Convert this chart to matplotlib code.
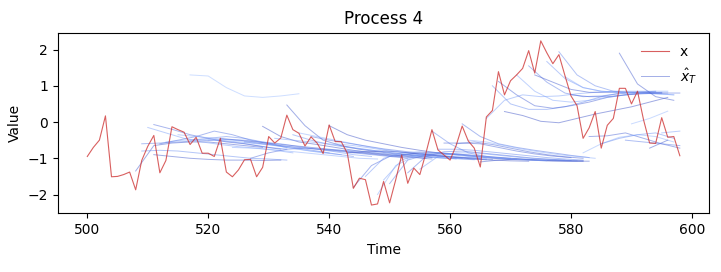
import matplotlib
matplotlib.use("Agg")
import matplotlib.pyplot as plt
import numpy as np

# observed series x, t = 500..598
t_obs = np.arange(500, 599)
x_obs = [-0.95, -0.70, -0.50, 0.17, -1.51, -1.50, -1.45, -1.38, -1.87, -1.06,
         -0.67, -0.37, -1.40, -1.06, -0.13, -0.21, -0.28, -0.62, -0.42, -0.86,
         -0.86, -0.95, -0.45, -1.38, -1.51, -1.32, -1.04, -1.03, -1.51, -1.25,
         -0.40, -0.58, -0.44, 0.19, -0.21, -0.31, -0.66, -0.41, -0.58, -0.87,
         -0.08, -0.54, -0.54, -0.86, -1.83, -1.55, -1.59, -2.29, -2.26, -1.64,
         -2.23, -1.60, -0.91, -1.69, -1.27, -1.45, -0.86, -0.21, -0.77, -0.91,
         -1.05, -0.65, -0.11, -0.52, -0.72, -1.24, 0.14, 0.32, 1.39, 0.75,
         1.14, 1.30, 1.48, 1.97, 1.35, 2.24, 1.91, 1.61, 1.86, 1.28,
         0.72, 0.45, -0.45, -0.16, 0.29, -0.72, -0.09, 0.10, 0.93, 0.93,
         0.50, 0.85, 0.06, -0.58, -0.59, 0.12, -0.42, -0.40, -0.93]

# forecasts: start time, values every 3 steps, colour shade (coolwarm 0..0.3)
fc_step = 3
fc_start = [508, 509, 510, 511, 509, 511, 513, 512, 515, 517,
            517,
            520, 522, 524, 526, 529, 531, 533, 535, 537, 539,
            540, 541, 544, 546, 548, 550, 552, 555, 557, 559,
            562, 563, 565,
            527, 534, 543, 549, 553, 558, 561,
            566, 567, 568, 569, 571, 573, 574, 576, 578, 579,
            580, 588,
            583, 582, 585, 593, 595, 590, 589]
fc_vals = [
    [-1.35, -0.65, -0.58, -0.55, -0.55, -0.60, -0.65, -0.70],
    [-0.60, -0.58, -0.55, -0.52, -0.50, -0.55, -0.62, -0.70, -0.75],
    [-0.15, -0.30, -0.45, -0.55, -0.62, -0.68, -0.72, -0.78, -0.85],
    [-0.07, -0.20, -0.35, -0.45, -0.55, -0.60, -0.68, -0.75],
    [-0.80, -0.78, -0.80, -0.85, -0.90, -0.95, -1.00, -1.02, -1.05],
    [-0.90, -0.95, -1.00, -1.03, -1.05, -1.05, -1.06, -1.05],
    [-0.55, -0.50, -0.48, -0.50, -0.55, -0.60, -0.65, -0.72, -0.80, -0.85],
    [-0.60, -0.50, -0.40, -0.25, -0.35, -0.50, -0.60, -0.70],
    [-0.35, -0.40, -0.45, -0.50, -0.55, -0.62, -0.70, -0.78, -0.85, -0.90],
    [-0.50, -0.45, -0.40, -0.45, -0.55, -0.65, -0.72, -0.80, -0.88, -0.95],
    [1.30, 1.27, 0.95, 0.72, 0.68, 0.72, 0.78],
    [-0.50, -0.48, -0.50, -0.55, -0.60, -0.68, -0.75, -0.82, -0.90, -0.95],
    [-0.45, -0.50, -0.55, -0.60, -0.65, -0.70, -0.75, -0.80, -0.85, -0.90, -0.95],
    [-0.70, -0.72, -0.75, -0.80, -0.85, -0.90, -0.95, -1.00, -1.02],
    [-0.55, -0.60, -0.65, -0.70, -0.75, -0.80, -0.85, -0.90, -0.95, -1.00],
    [-0.12, -0.40, -0.55, -0.62, -0.70, -0.78, -0.85, -0.90, -0.95, -1.00],
    [-0.45, -0.50, -0.55, -0.60, -0.68, -0.75, -0.82, -0.88, -0.93, -0.98, -1.02],
    [0.47, -0.10, -0.50, -0.65, -0.75, -0.82, -0.88, -0.93, -0.98],
    [-0.30, -0.40, -0.50, -0.60, -0.70, -0.78, -0.85, -0.92, -0.97, -1.00],
    [-0.40, -0.50, -0.58, -0.66, -0.74, -0.80, -0.86, -0.92, -0.96, -1.00, -1.03],
    [-0.75, -0.78, -0.80, -0.85, -0.90, -0.95, -0.98, -1.00, -1.02, -1.04],
    [-0.10, -0.35, -0.50, -0.60, -0.70, -0.78, -0.85, -0.90, -0.95, -1.00, -1.03, -1.05, -1.07, -1.08, -1.08],
    [-0.60, -0.65, -0.72, -0.80, -0.86, -0.90, -0.95, -0.98, -1.00],
    [-1.80, -1.20, -0.95, -0.90, -0.92, -0.95, -0.98, -1.00],
    [-1.50, -1.00, -0.85, -0.82, -0.85, -0.90, -0.95, -0.98, -1.00],
    [-2.00, -1.20, -0.95, -0.88, -0.90, -0.95, -1.00],
    [-1.70, -1.05, -0.90, -0.88, -0.90, -0.95, -1.00, -1.03],
    [-0.90, -0.85, -0.85, -0.88, -0.92, -0.96, -1.00, -1.03, -1.05, -1.06, -1.07],
    [-1.30, -0.95, -0.85, -0.85, -0.90, -0.95, -1.00, -1.03, -1.05],
    [-0.25, -0.60, -0.85, -0.95, -1.00, -1.03, -1.05, -1.06, -1.07],
    [-0.58, -0.58, -0.60, -0.70, -0.80, -0.88, -0.94, -0.98],
    [-0.05, -0.40, -0.60, -0.70, -0.78, -0.85, -0.92, -0.98],
    [-0.50, -0.55, -0.65, -0.75, -0.83, -0.90, -0.95, -1.00],
    [-1.10, -1.05, -1.02, -1.05, -1.07, -1.08, -1.08],
    [-1.00, -0.85, -0.75, -0.72, -0.75, -0.80, -0.85, -0.90, -0.95, -0.98, -1.02],
    [-0.35, -0.50, -0.62, -0.70, -0.76, -0.82, -0.88, -0.93, -0.98, -1.01, -1.04],
    [-0.85, -0.82, -0.80, -0.83, -0.88, -0.93, -0.98, -1.02, -1.05, -1.07, -1.08],
    [-1.60, -1.05, -0.88, -0.85, -0.88, -0.93, -0.98, -1.02, -1.05, -1.07],
    [-1.40, -0.95, -0.82, -0.80, -0.85, -0.90, -0.95, -1.00, -1.03, -1.06],
    [-0.75, -0.75, -0.78, -0.83, -0.88, -0.93, -0.98, -1.02, -1.05],
    [-0.60, -0.55, -0.62, -0.72, -0.82, -0.90, -0.96, -1.00],
    [0.10, 0.60, 0.75, 0.70, 0.72, 0.78, 0.82, 0.85, 0.85, 0.85, 0.85],
    [1.00, 0.50, 0.35, 0.35, 0.42, 0.55, 0.70, 0.80, 0.82, 0.83],
    [1.12, 0.75, 0.45, 0.38, 0.45, 0.55, 0.68, 0.75, 0.80, 0.80],
    [0.29, 0.18, 0.02, -0.02, 0.10, 0.22, 0.32, 0.42, 0.55, 0.68],
    [1.30, 0.85, 0.60, 0.55, 0.60, 0.68, 0.75, 0.80, 0.82],
    [1.55, 1.10, 0.80, 0.70, 0.72, 0.78, 0.82, 0.85],
    [1.30, 1.10, 0.90, 0.82, 0.82, 0.83, 0.82, 0.80],
    [1.67, 1.20, 0.95, 0.85, 0.82, 0.80, 0.78, 0.75],
    [1.94, 1.30, 1.00, 0.85, 0.80, 0.80, 0.80],
    [1.25, 0.95, 0.85, 0.82, 0.80, 0.78, 0.75],
    [0.75, 0.70, 0.70, 0.75, 0.78, 0.80, 0.80],
    [1.90, 1.05, 0.70, 0.60],
    [-0.40, -0.38, -0.30, -0.45, -0.60, -0.72],
    [-0.85, -0.60, -0.42, -0.35, -0.40, -0.55],
    [-0.60, -0.45, -0.35, -0.30, -0.45],
    [-0.72, -0.50],
    [-0.30, -0.25],
    [-0.05, 0.10, 0.30],
    [-0.50, -0.55, -0.60, -0.65],
]
fc_shade = [0.04, 0.12, 0.20, 0.08, 0.16, 0.04, 0.24, 0.10, 0.22, 0.14,
            0.30,
            0.18, 0.06, 0.24, 0.12, 0.02, 0.20, 0.04, 0.24, 0.10, 0.16,
            0.02, 0.22, 0.08, 0.18, 0.24, 0.12, 0.04, 0.20, 0.14, 0.06,
            0.10, 0.24, 0.04,
            0.08, 0.16, 0.02, 0.20, 0.10, 0.14, 0.06,
            0.20, 0.16, 0.06, 0.02, 0.22, 0.12, 0.04, 0.18, 0.14, 0.24,
            0.08, 0.04,
            0.06, 0.26, 0.16, 0.04, 0.20, 0.28, 0.12]

cmap = plt.get_cmap("coolwarm")

fig = plt.figure(figsize=(7.21, 2.72), dpi=100)
ax = fig.add_axes([0.080, 0.216, 0.904, 0.664])

ax.plot(t_obs, x_obs, color="#cc2a2a", alpha=0.75, lw=0.8, label="x", zorder=3)

for i, (t0, vals) in enumerate(zip(fc_start, fc_vals)):
    tt = t0 + fc_step * np.arange(len(vals))
    ax.plot(tt, vals, color=cmap(fc_shade[i]), alpha=0.5, lw=0.7,
            label=r"$\hat{x}_T$" if i == 0 else None)

ax.set_title("Process 4")
ax.set_xlabel("Time")
ax.set_ylabel("Value")
ax.legend(loc="upper right", frameon=False)

fig.savefig("out.png", dpi=100)
